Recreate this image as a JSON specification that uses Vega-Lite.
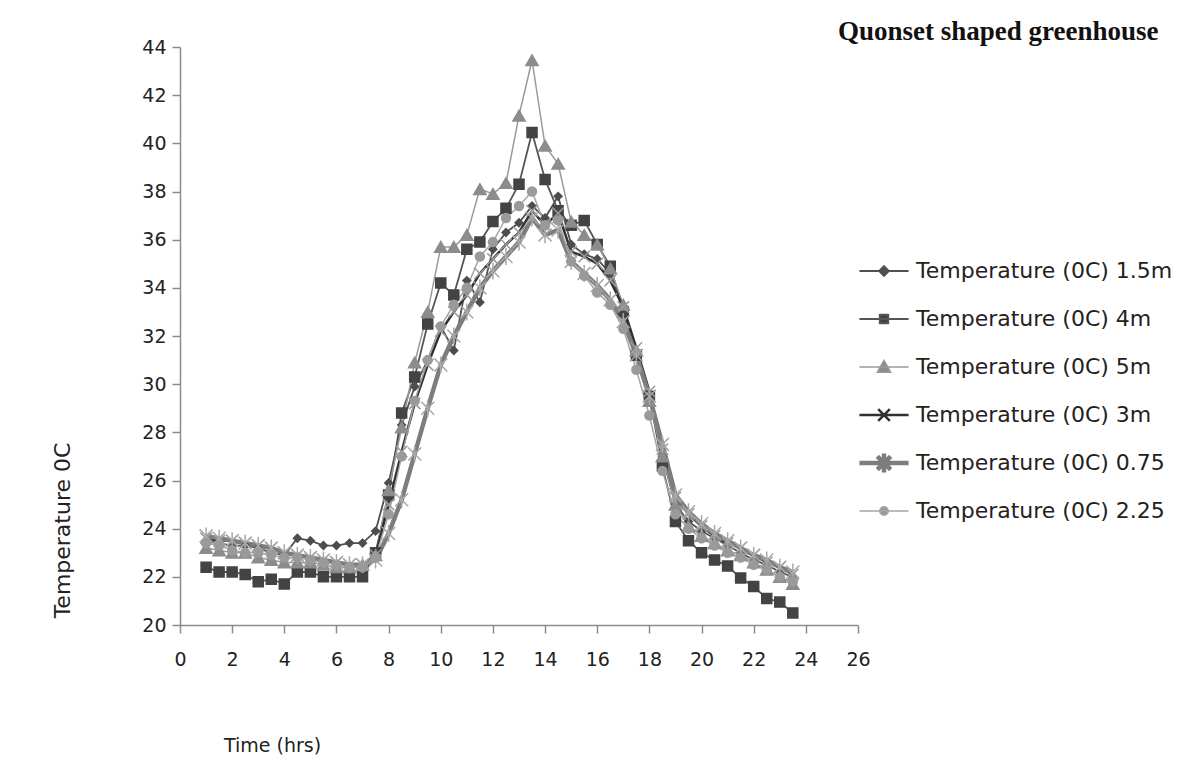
{
  "$schema": "https://vega.github.io/schema/vega-lite/v6.json",
  "width": 678,
  "height": 578,
  "autosize": {"type": "none"},
  "padding": {"left": 180, "top": 47, "right": 330, "bottom": 142},
  "background": "white",
  "config": {"view": {"stroke": null}, "font": "DejaVu Sans"},
  "title": {
    "text": "Quonset shaped greenhouse",
    "anchor": "start",
    "frame": "group",
    "font": "Liberation Serif",
    "fontWeight": "bold",
    "fontSize": 27,
    "color": "#111",
    "dx": 658,
    "dy": 12
  },
  "data": {
    "values": [
      {"t": 1, "s15": 23.5, "s4": 22.4, "s5": 23.2, "s3": 23.6, "s075": 23.7, "s225": 23.4},
      {"t": 1.5, "s15": 23.4, "s4": 22.2, "s5": 23.1, "s3": 23.5, "s075": 23.6, "s225": 23.3},
      {"t": 2, "s15": 23.3, "s4": 22.2, "s5": 23.0, "s3": 23.5, "s075": 23.5, "s225": 23.1},
      {"t": 2.5, "s15": 23.3, "s4": 22.1, "s5": 23.0, "s3": 23.4, "s075": 23.4, "s225": 23.0},
      {"t": 3, "s15": 23.2, "s4": 21.8, "s5": 22.8, "s3": 23.3, "s075": 23.3, "s225": 23.0},
      {"t": 3.5, "s15": 23.0, "s4": 21.9, "s5": 22.7, "s3": 23.2, "s075": 23.2, "s225": 22.9},
      {"t": 4, "s15": 22.9, "s4": 21.7, "s5": 22.6, "s3": 23.0, "s075": 23.0, "s225": 22.8},
      {"t": 4.5, "s15": 23.6, "s4": 22.2, "s5": 22.6, "s3": 22.9, "s075": 22.9, "s225": 22.8},
      {"t": 5, "s15": 23.5, "s4": 22.2, "s5": 22.6, "s3": 22.8, "s075": 22.8, "s225": 22.7},
      {"t": 5.5, "s15": 23.3, "s4": 22.0, "s5": 22.5, "s3": 22.7, "s075": 22.7, "s225": 22.6},
      {"t": 6, "s15": 23.3, "s4": 22.0, "s5": 22.4, "s3": 22.6, "s075": 22.6, "s225": 22.5},
      {"t": 6.5, "s15": 23.4, "s4": 22.0, "s5": 22.4, "s3": 22.5, "s075": 22.5, "s225": 22.4},
      {"t": 7, "s15": 23.4, "s4": 22.0, "s5": 22.5, "s3": 22.5, "s075": 22.5, "s225": 22.4},
      {"t": 7.5, "s15": 23.9, "s4": 23.0, "s5": 22.9, "s3": 22.9, "s075": 22.7, "s225": 22.8},
      {"t": 8, "s15": 25.9, "s4": 25.4, "s5": 25.6, "s3": 25.0, "s075": 23.8, "s225": 24.6},
      {"t": 8.5, "s15": 28.3, "s4": 28.8, "s5": 28.2, "s3": 27.2, "s075": 25.2, "s225": 27.0},
      {"t": 9, "s15": 29.9, "s4": 30.3, "s5": 30.9, "s3": 29.2, "s075": 27.1, "s225": 29.3},
      {"t": 9.5, "s15": 31.0, "s4": 32.5, "s5": 33.0, "s3": 30.8, "s075": 29.0, "s225": 31.0},
      {"t": 10, "s15": 32.4, "s4": 34.2, "s5": 35.7, "s3": 32.2, "s075": 30.8, "s225": 32.4},
      {"t": 10.5, "s15": 31.4, "s4": 33.7, "s5": 35.7, "s3": 33.0, "s075": 32.0, "s225": 33.3},
      {"t": 11, "s15": 34.3, "s4": 35.6, "s5": 36.2, "s3": 33.7, "s075": 33.0, "s225": 34.0},
      {"t": 11.5, "s15": 33.4, "s4": 35.9, "s5": 38.1, "s3": 34.6, "s075": 34.0, "s225": 35.3},
      {"t": 12, "s15": 35.6, "s4": 36.75, "s5": 37.9, "s3": 35.2, "s075": 34.7, "s225": 35.9},
      {"t": 12.5, "s15": 36.3, "s4": 37.3, "s5": 38.35, "s3": 35.8, "s075": 35.3, "s225": 36.9},
      {"t": 13, "s15": 36.7, "s4": 38.3, "s5": 41.15, "s3": 36.3, "s075": 35.9, "s225": 37.4},
      {"t": 13.5, "s15": 37.4, "s4": 40.45, "s5": 43.45, "s3": 37.2, "s075": 36.9, "s225": 38.0},
      {"t": 14, "s15": 36.9, "s4": 38.5, "s5": 39.9, "s3": 36.6, "s075": 36.2, "s225": 36.6},
      {"t": 14.5, "s15": 37.8, "s4": 37.2, "s5": 39.15, "s3": 37.1, "s075": 36.4, "s225": 36.8},
      {"t": 15, "s15": 35.8, "s4": 36.6, "s5": 36.75, "s3": 35.5, "s075": 35.1, "s225": 35.1},
      {"t": 15.5, "s15": 35.4, "s4": 36.8, "s5": 36.2, "s3": 35.3, "s075": 34.6, "s225": 34.5},
      {"t": 16, "s15": 35.2, "s4": 35.8, "s5": 35.8, "s3": 35.0, "s075": 34.1, "s225": 33.8},
      {"t": 16.5, "s15": 34.6, "s4": 34.9, "s5": 34.8, "s3": 34.3, "s075": 33.5, "s225": 33.3},
      {"t": 17, "s15": 33.2, "s4": 33.0, "s5": 33.3, "s3": 33.2, "s075": 32.6, "s225": 32.3},
      {"t": 17.5, "s15": 31.3, "s4": 31.2, "s5": 31.4, "s3": 31.5, "s075": 31.2, "s225": 30.6},
      {"t": 18, "s15": 29.4, "s4": 29.5, "s5": 29.3, "s3": 29.7, "s075": 29.5, "s225": 28.7},
      {"t": 18.5, "s15": 27.0, "s4": 26.6, "s5": 27.0, "s3": 27.3, "s075": 27.5, "s225": 26.4},
      {"t": 19, "s15": 25.0, "s4": 24.3, "s5": 25.0, "s3": 25.3, "s075": 25.4, "s225": 24.6},
      {"t": 19.5, "s15": 24.3, "s4": 23.5, "s5": 24.1, "s3": 24.6, "s075": 24.7, "s225": 24.0},
      {"t": 20, "s15": 23.9, "s4": 23.0, "s5": 23.7, "s3": 24.1, "s075": 24.2, "s225": 23.6},
      {"t": 20.5, "s15": 23.6, "s4": 22.7, "s5": 23.4, "s3": 23.7, "s075": 23.8, "s225": 23.3},
      {"t": 21, "s15": 23.3, "s4": 22.45, "s5": 23.1, "s3": 23.4, "s075": 23.5, "s225": 23.0},
      {"t": 21.5, "s15": 23.0, "s4": 21.95, "s5": 22.9, "s3": 23.2, "s075": 23.2, "s225": 22.8},
      {"t": 22, "s15": 22.7, "s4": 21.6, "s5": 22.6, "s3": 22.9, "s075": 22.9, "s225": 22.5},
      {"t": 22.5, "s15": 22.5, "s4": 21.1, "s5": 22.3, "s3": 22.6, "s075": 22.7, "s225": 22.3},
      {"t": 23, "s15": 22.2, "s4": 20.95, "s5": 22.0, "s3": 22.4, "s075": 22.4, "s225": 22.0},
      {"t": 23.5, "s15": 22.0, "s4": 20.5, "s5": 21.7, "s3": 22.1, "s075": 22.2, "s225": 21.8}
    ]
  },
  "transform": [
    {"fold": ["s15", "s4", "s5", "s3", "s075", "s225"], "as": ["series", "temp"]}
  ],
  "encoding": {
    "x": {
      "field": "t",
      "type": "quantitative",
      "scale": {"domain": [0, 26], "nice": false, "zero": false},
      "axis": {
        "values": [0, 2, 4, 6, 8, 10, 12, 14, 16, 18, 20, 22, 24, 26],
        "grid": false,
        "domainColor": "#8c8c8c",
        "domainWidth": 1.5,
        "tickColor": "#8c8c8c",
        "tickWidth": 1.5,
        "tickSize": 8,
        "labelFont": "DejaVu Sans",
        "labelFontSize": 19,
        "labelColor": "#222",
        "labelPadding": 17,
        "labelFlush": false,
        "labelOverlap": false,
        "title": "Time (hrs)",
        "titleFont": "DejaVu Sans",
        "titleFontSize": 19,
        "titleFontWeight": "normal",
        "titleColor": "#222",
        "titleX": 92,
        "titleY": 120,
        "titleBaseline": "middle",
        "titleAlign": "center"
      }
    },
    "y": {
      "field": "temp",
      "type": "quantitative",
      "scale": {"domain": [20, 44], "nice": false, "zero": false},
      "axis": {
        "values": [20, 22, 24, 26, 28, 30, 32, 34, 36, 38, 40, 42, 44],
        "grid": false,
        "domainColor": "#8c8c8c",
        "domainWidth": 1.5,
        "tickColor": "#8c8c8c",
        "tickWidth": 1.5,
        "tickSize": 8,
        "labelFont": "DejaVu Sans",
        "labelFontSize": 19,
        "labelColor": "#222",
        "labelPadding": 6,
        "labelOverlap": false,
        "title": "Temperature 0C",
        "titleFont": "DejaVu Sans",
        "titleFontSize": 22,
        "titleFontWeight": "normal",
        "titleColor": "#222",
        "titleX": -118,
        "titleY": 483,
        "titleAngle": -90,
        "titleBaseline": "middle",
        "titleAlign": "center"
      }
    }
  },
  "layer": [
    {
      "mark": {"type": "line"},
      "encoding": {
        "color": {
          "field": "series",
          "type": "nominal",
          "scale": {
            "domain": ["s15", "s4", "s5", "s3", "s075", "s225"],
            "range": ["#505050", "#555555", "#9a9a9a", "#303030", "#7d7d7d", "#a6a6a6"]
          },
          "legend": {
            "orient": "none",
            "legendX": 704,
            "legendY": 224,
            "title": null,
            "padding": 0,
            "symbolSize": 2000,
            "symbolType": "stroke",
            "rowPadding": 0,
            "labelOffset": 11,
            "labelLimit": 400,
            "labelFont": "DejaVu Sans",
            "labelFontSize": 22,
            "labelColor": "#222",
            "labelExpr": "{'s15':'Temperature (0C) 1.5m','s4':'Temperature (0C) 4m','s5':'Temperature (0C) 5m','s3':'Temperature (0C) 3m','s075':'Temperature (0C) 0.75','s225':'Temperature (0C) 2.25'}[datum.value]",
            "encoding": {
              "labels": {
                "dx": {"value": 32}
              },
              "symbols": {
                "shape": {"value": {"expr": "{'s15':'M0,-0.876L0,-0.876M0,0.876L0,0.876M-1.1,0H1.1M0,-0.22L0.22,0L0,0.22L-0.22,0Z','s4':'M0,-0.876L0,-0.876M0,0.876L0,0.876M-1.1,0H1.1M-0.19,-0.19H0.19V0.19H-0.19Z','s5':'M0,-0.903L0,-0.903M0,0.903L0,0.903M-1.1,0H1.1M0,-0.3L0.3,0.24H-0.3Z','s3':'M0,-0.814L0,-0.814M0,0.814L0,0.814M-1.1,0H1.1M-0.26,-0.26L0.26,0.26M-0.26,0.26L0.26,-0.26','s075':'M0,-0.635L0,-0.635M0,0.635L0,0.635M-1.1,0H1.1M-0.3,-0.3L0.3,0.3M-0.3,0.3L0.3,-0.3M0,-0.42V0.42','s225':'M0,-0.903L0,-0.903M0,0.903L0,0.903M-1.1,0H1.1M-0.19,0A0.19,0.19,0,1,0,0.19,0A0.19,0.19,0,1,0,-0.19,0Z'}[datum.value]"}},
                "fill": {"value": {"expr": "{'s15':'#4d4d4d','s4':'#434343','s5':'#8c8c8c','s3':'#9a9a9a','s075':'#a8a8a8','s225':'#9a9a9a'}[datum.value]"}},
                "stroke": {"value": {"expr": "{'s15':'#505050','s4':'#555555','s5':'#9a9a9a','s3':'#303030','s075':'#7d7d7d','s225':'#a6a6a6'}[datum.value]"}},
                "strokeWidth": {"value": {"expr": "{'s15':1.8,'s4':1.8,'s5':1.5,'s3':2.5,'s075':4.5,'s225':1.5}[datum.value]"}},
                "opacity": {"value": 1}
              }
            }
          }
        },
        "strokeWidth": {
          "condition": [
            {"test": "datum.series === 's075'", "value": 4.5},
            {"test": "datum.series === 's3'", "value": 2.5},
            {"test": "datum.series === 's15' || datum.series === 's4'", "value": 1.8}
          ],
          "value": 1.5
        }
      }
    },
    {
      "mark": {"type": "point", "strokeWidth": 1.5, "opacity": 1},
      "encoding": {
        "stroke": {
          "condition": [
            {"test": "datum.series === 's15'", "value": "#4d4d4d"},
            {"test": "datum.series === 's4'", "value": "#434343"},
            {"test": "datum.series === 's5'", "value": "#8c8c8c"},
            {"test": "datum.series === 's075'", "value": "#a8a8a8"}
          ],
          "value": "#9a9a9a"
        },
        "fill": {
          "condition": [
            {"test": "datum.series === 's15'", "value": "#4d4d4d"},
            {"test": "datum.series === 's4'", "value": "#434343"},
            {"test": "datum.series === 's5'", "value": "#8c8c8c"},
            {"test": "datum.series === 's075'", "value": "#a8a8a8"}
          ],
          "value": "#9a9a9a"
        },
        "shape": {
          "condition": [
            {"test": "datum.series === 's15'", "value": "diamond"},
            {"test": "datum.series === 's4'", "value": "square"},
            {"test": "datum.series === 's5'", "value": "triangle-up"},
            {"test": "datum.series === 's3'", "value": "M-1,-1L1,1M-1,1L1,-1"},
            {"test": "datum.series === 's075'", "value": "M-1,-1L1,1M-1,1L1,-1M0,-1.3V1.3"}
          ],
          "value": "circle"
        },
        "size": {
          "condition": [
            {"test": "datum.series === 's15'", "value": 60},
            {"test": "datum.series === 's4'", "value": 100},
            {"test": "datum.series === 's5'", "value": 150},
            {"test": "datum.series === 's3'", "value": 130},
            {"test": "datum.series === 's075'", "value": 170}
          ],
          "value": 80
        }
      }
    }
  ]
}
